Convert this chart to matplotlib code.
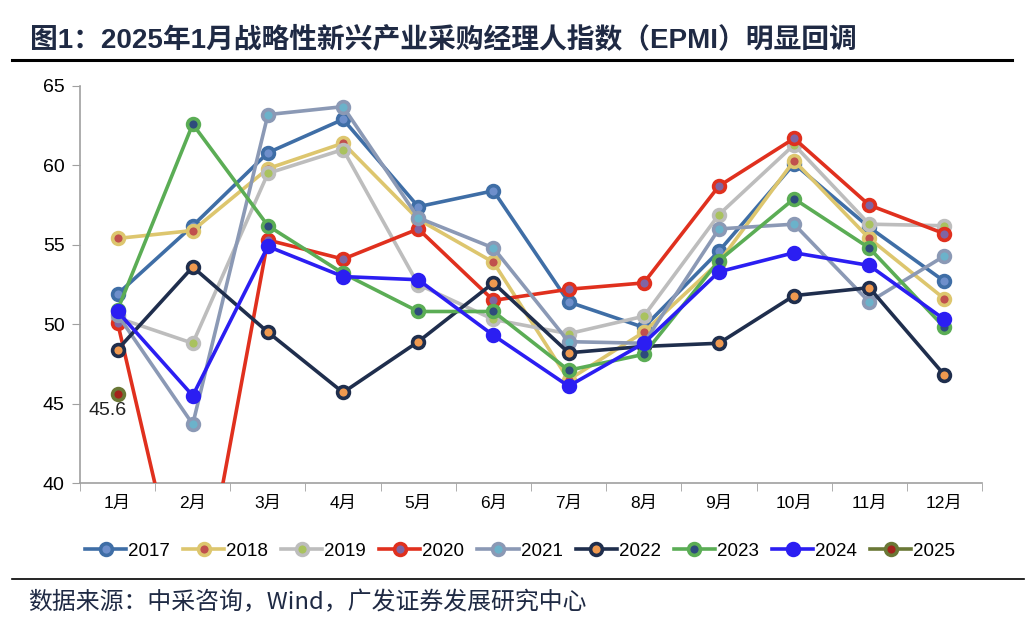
import numpy as np
import matplotlib.pyplot as plt

plt.rcParams['font.family'] = ['Liberation Sans', 'Noto Sans CJK SC', 'DejaVu Sans']

# 数据
bulan = ['1月', '2月', '3月', '4月', '5月', '6月', '7月', '8月', '9月', '10月', '11月', '12月']
tahun = ['2017', '2018', '2019', '2020', '2021', '2022', '2023', '2024', '2025']

epmi_2017 = [51.9, 56.2, 60.8, 62.9, 57.4, 58.4, 51.4, 49.8, 54.6, 60.1, 56.1, 52.7]
epmi_2018 = [55.4, 55.9, 59.8, 61.4, 56.6, 53.9, 46.5, 49.5, 53.9, 60.3, 55.4, 51.6]
epmi_2019 = [50.4, 48.8, 59.5, 61.0, 52.5, 50.3, 49.4, 50.5, 56.9, 61.3, 56.3, 56.2]
epmi_2020 = [50.1, 29.7, 55.3, 54.1, 56.0, 51.5, 52.2, 52.6, 58.7, 61.7, 57.5, 55.7]
epmi_2021 = [50.6, 43.7, 63.2, 63.7, 56.7, 54.8, 48.9, 48.8, 56.0, 56.3, 51.4, 54.3]
epmi_2022 = [48.4, 53.6, 49.5, 45.7, 48.9, 52.6, 48.2, 48.6, 48.8, 51.8, 52.3, 46.8]
epmi_2023 = [50.9, 62.6, 56.2, 53.2, 50.8, 50.8, 47.1, 48.1, 54.0, 57.9, 54.8, 49.8]
epmi_2024 = [50.8, 45.5, 54.9, 53.0, 52.8, 49.3, 46.1, 48.8, 53.3, 54.5, 53.7, 50.3]
epmi_2025 = [45.6]

semua_data = [epmi_2017, epmi_2018, epmi_2019, epmi_2020, epmi_2021,
              epmi_2022, epmi_2023, epmi_2024, epmi_2025]

# warna garis dan isi marker
warna_garis = ['#3F6EA6', '#DDC66E', '#BDBDBD', '#E0301E', '#8B99B5',
               '#1F2E4D', '#5BAD55', '#2B1EF2', '#6A7836']
warna_isi = ['#6E8FCB', '#C0504D', '#A9C25E', '#7F65A3', '#6BB2CA',
             '#F0994F', '#2E4B7C', '#2B1EF2', '#A3231C']

fig = plt.figure(figsize=(10.36, 6.30), dpi=100)
ax = fig.add_axes([80/1036, 1 - 483/630, (982 - 80)/1036, (483 - 86)/630])

x = np.arange(len(bulan))
for i in range(len(tahun)):
    y = semua_data[i]
    ax.plot(x[:len(y)], y, color=warna_garis[i], linewidth=2.6,
            marker='o', markersize=8.5, markerfacecolor=warna_isi[i],
            markeredgecolor=warna_garis[i], markeredgewidth=2.6,
            label=tahun[i], zorder=3 + i * 0.1)

ax.annotate('45.6', (0, epmi_2025[0]), xytext=(-7, -12), textcoords='offset points',
            ha='center', va='center', fontsize=14, color='#222222')

ax.set_xlim(-0.5, 11.5)
ax.set_ylim(40, 65)
ax.set_yticks([40, 45, 50, 55, 60, 65])
ax.set_xticks(x)
ax.set_xticklabels(bulan, fontsize=12.5)
ax.set_xticks(np.arange(-0.5, 12, 1), minor=True)
ax.tick_params(axis='x', which='major', length=0, pad=9)
ax.tick_params(axis='x', which='minor', length=6, color='#A0A0A0', direction='out')
ax.tick_params(axis='y', length=6, color='#A0A0A0', labelsize=14, pad=5)

for s in ['top', 'right']:
    ax.spines[s].set_visible(False)
for s in ['left', 'bottom']:
    ax.spines[s].set_color('#A0A0A0')
    ax.spines[s].set_linewidth(1.2)

leg = fig.legend(loc='center', bbox_to_anchor=(520/1036, 1 - 551/630), ncol=9,
                 frameon=False, fontsize=13.5, handlelength=2.2, handletextpad=0.1,
                 columnspacing=0.7)

# judul
fig.text(30/1036, 1 - 40/630, '图1：2025年1月战略性新兴产业采购经理人指数（EPMI）明显回调',
         family=['Liberation Sans', 'Noto Sans CJK SC'], fontsize=20, fontweight='bold',
         color='#1F2A44', ha='left', va='center')
fig.add_artist(plt.Line2D([12/1036, 1012/1036], [1 - 60/630, 1 - 60/630],
                          color='black', linewidth=2.2))
fig.add_artist(plt.Line2D([12/1036, 1024/1036], [1 - 579/630, 1 - 579/630],
                          color='black', linewidth=1.2))
fig.text(28/1036, 1 - 603/630, '数据来源：中采咨询，Wind，广发证券发展研究中心',
         family=['Noto Sans CJK SC'], fontsize=17.2, fontweight='light', color='#1F2A44',
         ha='left', va='center')

plt.savefig('out.png', dpi=100)
